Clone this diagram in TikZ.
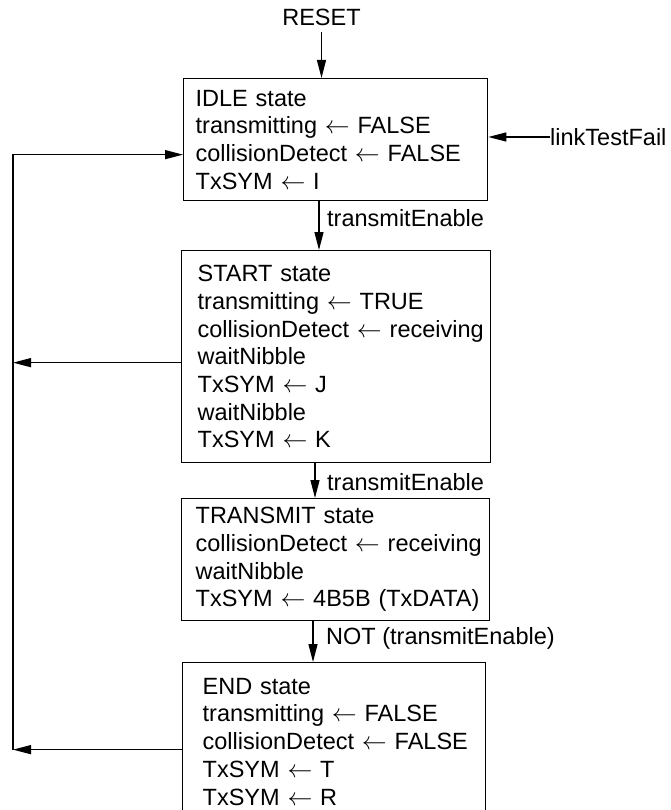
\documentclass[tikz,border=0pt]{standalone}
\usepackage{fontspec}
\setmainfont{Liberation Sans}
\usetikzlibrary{arrows.meta}
\newcommand{\boxline}[1]{\mbox{#1}}
\begin{document}
\begin{tikzpicture}[x=1pt,y=1pt,
  txtfont/.style={font=\fontsize{23.5}{27.7}\selectfont},
  stbox/.style={draw, line width=1.3pt, align=left, inner ysep=0pt, anchor=north west, txtfont},
  lbl/.style={txtfont, inner sep=0pt},
  conn/.style={line width=1.3pt},
  arr/.style={conn, -{Triangle[length=18pt,width=9pt]}}]
\useasboundingbox (0,0) rectangle (670,-810);
\clip (0,0) rectangle (670,-810);
\fill[white] (0,0) rectangle (670,-810);

\node[lbl] (reset) at (321.5,-17) {RESET};

\node[stbox, inner xsep=12pt, text width=280pt, minimum height=122pt] (idle) at (183,-78)
  {\boxline{IDLE state}\\\boxline{transmitting $\leftarrow$ FALSE}\\\boxline{collisionDetect $\leftarrow$ FALSE}\\\boxline{TxSYM $\leftarrow$ I}};

\node[stbox, inner xsep=16pt, text width=277pt, minimum height=212pt] (start) at (181,-250)
  {\boxline{START state}\\\boxline{transmitting $\leftarrow$ TRUE}\\\boxline{collisionDetect $\leftarrow$ receiving}\\\boxline{waitNibble}\\\boxline{TxSYM $\leftarrow$ J}\\\boxline{waitNibble}\\\boxline{TxSYM $\leftarrow$ K}};

\node[stbox, inner xsep=14pt, text width=280pt, minimum height=122pt] (tx) at (181,-498)
  {\boxline{TRANSMIT state}\\\boxline{collisionDetect $\leftarrow$ receiving}\\\boxline{waitNibble}\\\boxline{TxSYM $\leftarrow$ 4B5B (TxDATA)}};

\node[stbox, inner xsep=20pt, text width=263pt, minimum height=158pt] (end) at (182,-662)
  {\boxline{END state}\\\boxline{transmitting $\leftarrow$ FALSE}\\\boxline{collisionDetect $\leftarrow$ FALSE}\\\boxline{TxSYM $\leftarrow$ T}\\\boxline{TxSYM $\leftarrow$ R}};

\node[lbl, anchor=west] (ltf) at (550,-137) {linkTestFail};
\node[lbl, anchor=west] (l1) at (327,-218) {transmitEnable};
\node[lbl, anchor=west] (l2) at (327,-482) {transmitEnable};
\node[lbl, anchor=west] (l3) at (326,-638) {NOT (transmitEnable)};

\coordinate (lx) at (13,0);
\coordinate (c1) at (319,0);
\coordinate (c2) at (315,0);
\coordinate (c3) at (313,0);
\coordinate (idlein) at ([yshift=-15pt]idle.west);
\coordinate (startout) at ([yshift=-6pt]start.west);
\coordinate (endout) at ([yshift=-8pt]end.west);

\draw[arr, shorten <=6pt] (reset.south) -- (reset.south |- idle.north);
\draw[arr] (ltf.west) -- (ltf.west -| idle.east);
\draw[arr] (c1 |- idle.south) -- (c1 |- start.north);
\draw[arr] (c2 |- start.south) -- (c2 |- tx.north);
\draw[arr] (c3 |- tx.south) -- (c3 |- end.north);
\draw[arr] (lx |- endout) -- (lx |- idlein) -- (idlein);
\draw[arr] (startout) -- (lx |- startout);
\draw[arr] (endout) -- (lx |- endout);
\end{tikzpicture}
\end{document}
